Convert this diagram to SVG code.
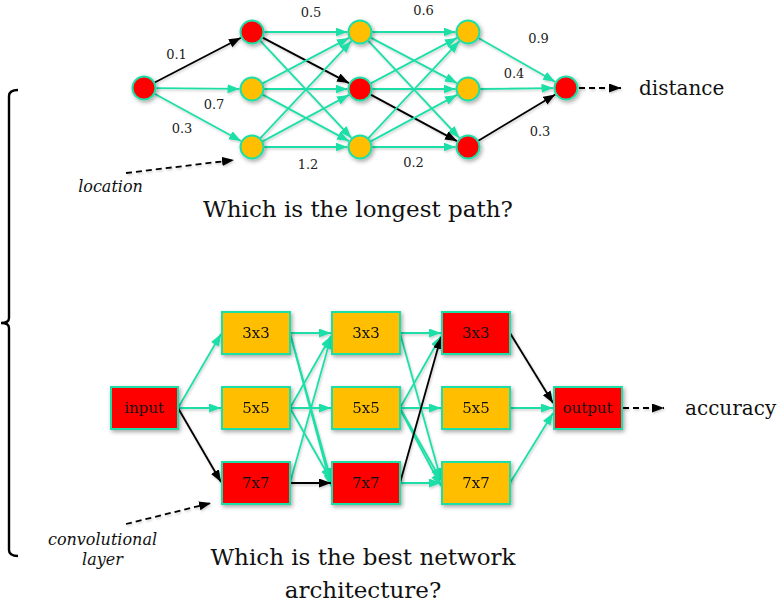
<svg xmlns="http://www.w3.org/2000/svg" width="779" height="613" viewBox="0 0 779 613">
  <defs>
    <marker id="ah-teal" markerUnits="userSpaceOnUse" markerWidth="13" markerHeight="10" refX="12" refY="4.5" orient="auto">
      <path d="M0,0 L12,4.5 L0,9 z" fill="#1FDFA8"/>
    </marker>
    <marker id="ah-black" markerUnits="userSpaceOnUse" markerWidth="13" markerHeight="10" refX="12" refY="4.5" orient="auto">
      <path d="M0,0 L12,4.5 L0,9 z" fill="#000"/>
    </marker>
    <filter id="shadow" x="-30%" y="-30%" width="160%" height="160%">
      <feDropShadow dx="1.5" dy="2" stdDeviation="2" flood-color="#000" flood-opacity="0.35"/>
    </filter>
    <filter id="lineshadow" x="-10%" y="-10%" width="120%" height="120%">
      <feDropShadow dx="1" dy="1.5" stdDeviation="1.2" flood-color="#000" flood-opacity="0.2"/>
    </filter>
  </defs>
  <style>
    .t { stroke: #1FDFA8; stroke-width: 1.8; fill: none; marker-end: url(#ah-teal); }
    .b { stroke: #000; stroke-width: 1.8; fill: none; marker-end: url(#ah-black); }
    .d { stroke: #000; stroke-width: 1.8; fill: none; stroke-dasharray: 6 4; marker-end: url(#ah-black); }
    .red { fill: #FF0000; stroke: #1FDFA8; stroke-width: 2; }
    .amb { fill: #FFBF00; stroke: #1FDFA8; stroke-width: 2; }
    .w { font-family: "DejaVu Serif", "Liberation Serif", serif; font-size: 13px; fill: #222; text-anchor: middle; }
    .lbl { font-family: "DejaVu Serif", "Liberation Serif", serif; font-size: 15px; fill: #111; text-anchor: middle; }
    .out { font-family: "DejaVu Serif", "Liberation Serif", serif; font-size: 20px; fill: #111; }
    .title { font-family: "DejaVu Serif", "Liberation Serif", serif; font-size: 23px; fill: #111; text-anchor: middle; }
    .note { font-family: "DejaVu Serif", "Liberation Serif", serif; font-style: italic; font-size: 16px; fill: #111; text-anchor: middle; }
  </style>

  <!-- left bracket spanning both problems -->
  <path d="M18,90 Q9,90 9,96 L9,318 Q9,323 1,323 Q9,323 9,328 L9,550 Q9,556 18,556" fill="none" stroke="#000" stroke-width="2.4"/>

  <!-- ===== shortest/longest path graph: connectors ===== -->
  <g id="path-edges" filter="url(#lineshadow)">
    <line class="b" x1="154.2" y1="82.7" x2="240.9" y2="37.8"/>
    <line class="t" x1="155.5" y1="88.1" x2="239.5" y2="88.9"/>
    <line class="t" x1="154.1" y1="93.5" x2="241" y2="141"/>

    <line class="t" x1="263.5" y1="32" x2="347.5" y2="32"/>
    <line class="b" x1="262.2" y1="37.4" x2="349" y2="83.1"/>
    <line class="t" x1="259.9" y1="40.4" x2="351.4" y2="137.9"/>
    <line class="t" x1="262.2" y1="83.6" x2="349" y2="37.9"/>
    <line class="t" x1="263.5" y1="89" x2="347.5" y2="89"/>
    <line class="t" x1="262.2" y1="94.4" x2="349" y2="141.1"/>
    <line class="t" x1="259.9" y1="138.6" x2="351.4" y2="41.1"/>
    <line class="t" x1="262.2" y1="141.6" x2="349" y2="94.9"/>
    <line class="t" x1="263.5" y1="147" x2="347.5" y2="147"/>

    <line class="t" x1="371.5" y1="32" x2="455.5" y2="32"/>
    <line class="t" x1="370.2" y1="37.4" x2="457" y2="83.1"/>
    <line class="t" x1="367.9" y1="40.4" x2="459.4" y2="137.9"/>
    <line class="t" x1="370.2" y1="83.6" x2="457" y2="37.9"/>
    <line class="t" x1="371.5" y1="89" x2="455.5" y2="89"/>
    <line class="b" x1="370.2" y1="94.4" x2="457" y2="141.1"/>
    <line class="t" x1="367.9" y1="138.6" x2="459.4" y2="41.1"/>
    <line class="t" x1="370.2" y1="141.6" x2="457" y2="94.9"/>
    <line class="t" x1="371.5" y1="147" x2="455.5" y2="147"/>

    <line class="t" x1="478" y1="37.7" x2="555.1" y2="81.8"/>
    <line class="t" x1="479.5" y1="89" x2="553.5" y2="88.1"/>
    <line class="b" x1="477.9" y1="141.1" x2="555.3" y2="94.4"/>

    <line class="d" x1="579" y1="88" x2="621" y2="88"/>
    <line class="d" x1="126" y1="173" x2="234" y2="160"/>
  </g>

  <!-- edge weights -->
  <g id="weights">
    <text class="w" x="176.5" y="59">0.1</text>
    <text class="w" x="311" y="17">0.5</text>
    <text class="w" x="423.5" y="15">0.6</text>
    <text class="w" x="538.5" y="43">0.9</text>
    <text class="w" x="514" y="78">0.4</text>
    <text class="w" x="214" y="109">0.7</text>
    <text class="w" x="182" y="133">0.3</text>
    <text class="w" x="308" y="169">1.2</text>
    <text class="w" x="413.5" y="167">0.2</text>
    <text class="w" x="540" y="136">0.3</text>
  </g>

  <!-- ===== path graph: nodes ===== -->
  <g filter="url(#shadow)">
    <g id="n-src"><circle class="red" cx="144" cy="88" r="11.5"/></g>
    <g id="n-a1"><circle class="red" cx="252" cy="32" r="11.5"/></g>
    <g id="n-a2"><circle class="amb" cx="252" cy="89" r="11.5"/></g>
    <g id="n-a3"><circle class="amb" cx="252" cy="147" r="11.5"/></g>
    <g id="n-b1"><circle class="amb" cx="360" cy="32" r="11.5"/></g>
    <g id="n-b2"><circle class="red" cx="360" cy="89" r="11.5"/></g>
    <g id="n-b3"><circle class="amb" cx="360" cy="147" r="11.5"/></g>
    <g id="n-c1"><circle class="amb" cx="468" cy="32" r="11.5"/></g>
    <g id="n-c2"><circle class="amb" cx="468" cy="89" r="11.5"/></g>
    <g id="n-c3"><circle class="red" cx="468" cy="147" r="11.5"/></g>
    <g id="n-dst"><circle class="red" cx="566" cy="88" r="11.5"/></g>
  </g>

  <text class="out" x="639" y="95">distance</text>
  <text class="note" x="110.5" y="192">location</text>
  <text class="title" x="358" y="217">Which is the longest path?</text>

  <!-- ===== architecture graph: connectors ===== -->
  <g id="arch-edges" filter="url(#lineshadow)">
    <line class="t" x1="178" y1="408" x2="221" y2="334"/>
    <line class="t" x1="178" y1="408" x2="221" y2="408"/>
    <line class="b" x1="178" y1="408" x2="221" y2="482"/>

    <line class="t" x1="290" y1="333" x2="331" y2="333"/>
    <line class="t" x1="290" y1="333" x2="331" y2="480"/>
    <line class="t" x1="291" y1="337" x2="331" y2="486"/>
    <line class="t" x1="290" y1="408" x2="331" y2="336"/>
    <line class="t" x1="290" y1="408" x2="331" y2="408"/>
    <line class="t" x1="290" y1="408" x2="331" y2="480"/>
    <line class="t" x1="290" y1="483" x2="331" y2="337"/>
    <line class="b" x1="290" y1="483" x2="331" y2="483"/>

    <line class="t" x1="400" y1="333" x2="441" y2="333"/>
    <line class="t" x1="400" y1="333" x2="441" y2="480"/>
    <line class="t" x1="400" y1="408" x2="441" y2="336"/>
    <line class="t" x1="400" y1="408" x2="441" y2="408"/>
    <line class="t" x1="400" y1="408" x2="441" y2="480"/>
    <line class="t" x1="401" y1="411" x2="441" y2="486"/>
    <line class="b" x1="400" y1="483" x2="441" y2="337"/>
    <line class="t" x1="400" y1="483" x2="441" y2="483"/>

    <line class="b" x1="510" y1="333" x2="553" y2="403"/>
    <line class="t" x1="510" y1="408" x2="553" y2="408"/>
    <line class="t" x1="510" y1="483" x2="553" y2="413"/>

    <line class="d" x1="623" y1="408" x2="664" y2="408"/>
    <line class="d" x1="126" y1="524" x2="211" y2="503"/>
  </g>

  <!-- ===== architecture graph: layer nodes ===== -->
  <g filter="url(#shadow)">
    <g id="in"><rect class="red" x="111" y="387" width="67" height="42"/><text class="lbl" x="144.5" y="413">input</text></g>
    <g id="l1-3"><rect class="amb" x="222" y="312" width="68" height="42"/><text class="lbl" x="256" y="338">3x3</text></g>
    <g id="l1-5"><rect class="amb" x="222" y="387" width="68" height="42"/><text class="lbl" x="256" y="413">5x5</text></g>
    <g id="l1-7"><rect class="red" x="222" y="462" width="68" height="42"/><text class="lbl" x="256" y="488">7x7</text></g>
    <g id="l2-3"><rect class="amb" x="332" y="312" width="68" height="42"/><text class="lbl" x="366" y="338">3x3</text></g>
    <g id="l2-5"><rect class="amb" x="332" y="387" width="68" height="42"/><text class="lbl" x="366" y="413">5x5</text></g>
    <g id="l2-7"><rect class="red" x="332" y="462" width="68" height="42"/><text class="lbl" x="366" y="488">7x7</text></g>
    <g id="l3-3"><rect class="red" x="442" y="312" width="68" height="42"/><text class="lbl" x="476" y="338">3x3</text></g>
    <g id="l3-5"><rect class="amb" x="442" y="387" width="68" height="42"/><text class="lbl" x="476" y="413">5x5</text></g>
    <g id="l3-7"><rect class="amb" x="442" y="462" width="68" height="42"/><text class="lbl" x="476" y="488">7x7</text></g>
    <g id="out"><rect class="red" x="554" y="387" width="68" height="42"/><text class="lbl" x="588" y="413">output</text></g>
  </g>

  <text class="out" x="685" y="415">accuracy</text>
  <text class="note" x="102.5" y="545">convolutional</text>
  <text class="note" x="102.5" y="565">layer</text>
  <text class="title" x="363" y="565">Which is the best network</text>
  <text class="title" x="363" y="598">architecture?</text>
</svg>
